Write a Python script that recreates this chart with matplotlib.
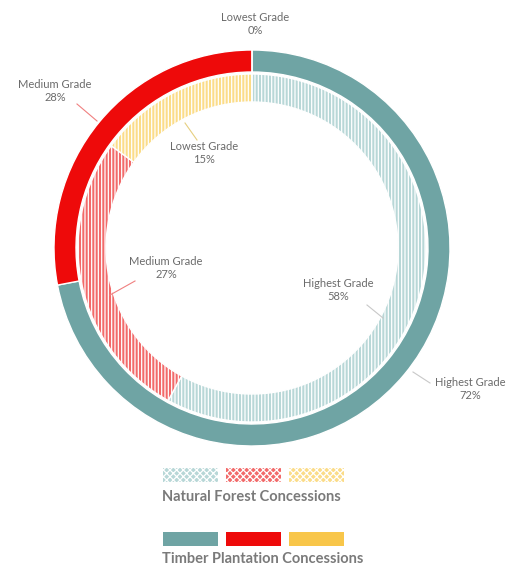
import matplotlib.pyplot as plt
from matplotlib.patches import Rectangle

plt.rcParams['font.family'] = ['Lato', 'DejaVu Sans']
plt.rcParams['hatch.linewidth'] = 0.9

grades = ['Highest Grade', 'Medium Grade', 'Lowest Grade']
timber_pct = [72, 28, 0]
natural_pct = [58, 27, 15]

timber_colors = ['#6fa4a4', '#ee0a0a', '#f8c64a']
natural_colors = ['#b8d7d7', '#f26a6a', '#fbdc88']
text_color = '#6b6b6b'

W, H = 507, 569
fig = plt.figure(figsize=(W / 100, H / 100), dpi=100)
ax = fig.add_axes([0, 0, 1, 1])

cx, cy = 252, H - 248

# outer ring: timber plantation concessions
outer, _ = ax.pie(timber_pct, colors=timber_colors, startangle=90, counterclock=False,
                  radius=198, center=(cx, cy),
                  wedgeprops=dict(width=22, edgecolor='white', linewidth=1))

# inner ring: natural forest concessions, striped
inner, _ = ax.pie(natural_pct, colors=natural_colors, startangle=90, counterclock=False,
                  radius=174, center=(cx, cy),
                  wedgeprops=dict(width=28, edgecolor='white', linewidth=1))
for w in inner:
    w.set_hatch('|||||')

ax.set_xlim(0, W)
ax.set_ylim(0, H)
ax.set_aspect('equal')
ax.axis('off')

# data labels with leader lines (pixel positions, y from top)
labels = [
    (grades[2], timber_pct[2], (255, 24), None, '#f8c64a'),
    (grades[1], timber_pct[1], (55, 91), ((77, 104), (97, 121)), '#f08080'),
    (grades[2], natural_pct[2], (204, 153), ((185, 123), (197, 140)), '#e6cf80'),
    (grades[1], natural_pct[1], (166, 268), ((135, 281), (110, 295)), '#f08080'),
    (grades[0], natural_pct[0], (338, 290), ((367, 305), (383, 318)), '#c8c8c8'),
    (grades[0], timber_pct[0], (470, 389), ((413, 372), (430, 383)), '#c8c8c8'),
]
for name, pct, (tx, ty), line, lc in labels:
    ax.text(tx, H - ty, f'{name}\n{pct}%', ha='center', va='center',
            fontsize=8, color=text_color, linespacing=1.2)
    if line:
        (x0, y0), (x1, y1) = line
        ax.plot([x0, x1], [H - y0, H - y1], color=lc, lw=0.8)

# legend swatches
sw_x = [163, 226, 289]
for i in range(3):
    ax.add_patch(Rectangle((sw_x[i], H - 482), 55, 14, facecolor=natural_colors[i],
                           edgecolor='white', hatch='xxxxx', lw=0))
    ax.add_patch(Rectangle((sw_x[i], H - 546), 55, 14, facecolor=timber_colors[i],
                           edgecolor='none', lw=0))
ax.text(162, H - 497, 'Natural Forest Concessions', ha='left', va='center',
        fontsize=10.5, fontweight='bold', color='#7a7a7a')
ax.text(162, H - 559, 'Timber Plantation Concessions', ha='left', va='center',
        fontsize=10.5, fontweight='bold', color='#7a7a7a')

fig.savefig('out.png', dpi=100)
